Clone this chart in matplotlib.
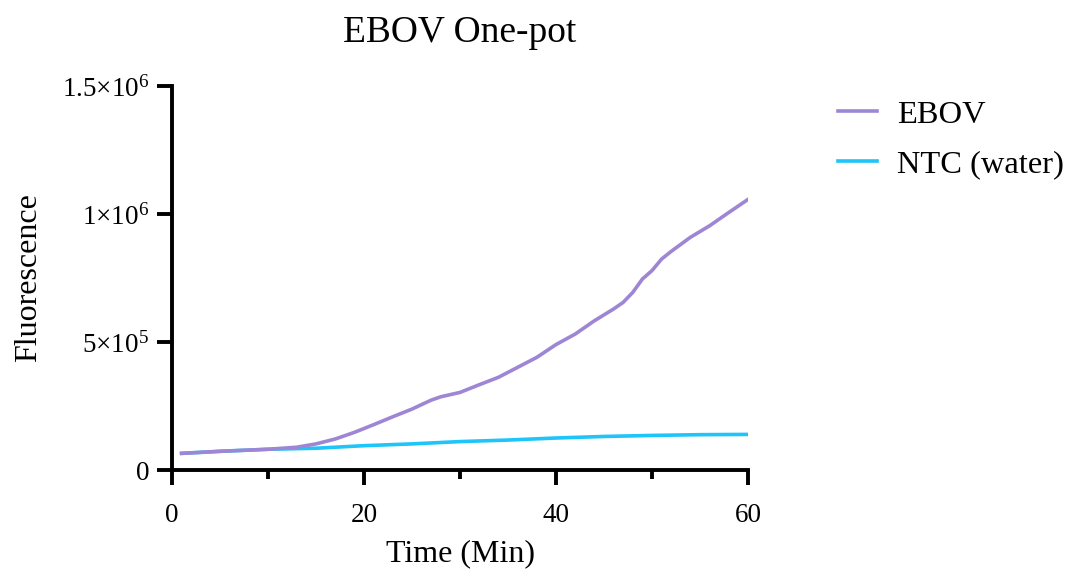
import matplotlib
matplotlib.use("Agg")
import matplotlib.pyplot as plt
from matplotlib.ticker import FixedLocator, FuncFormatter

plt.rcParams["font.family"] = ["Liberation Serif", "DejaVu Serif"]
plt.rcParams["mathtext.default"] = "regular"

# Fluorescence readings over time (minutes)
ebov_time = [1, 5, 10, 13, 15, 17, 19, 21, 23, 25, 27, 28, 30, 32, 34, 36, 38,
             40, 42, 44, 46, 47, 48, 49, 50, 51, 52, 54, 56, 58, 60]
ebov_fluor = [65000, 73000, 81000, 89000, 102000, 121000, 147000, 177000,
              208000, 238000, 273000, 286000, 303000, 333000, 362000, 401000,
              440000, 490000, 531000, 583000, 629000, 655000, 694000, 746000,
              779000, 824000, 854000, 909000, 954000, 1006000, 1057000]

ntc_time = [1, 5, 10, 15, 20, 25, 30, 35, 40, 45, 50, 55, 60]
ntc_fluor = [65000, 73000, 81000, 85000, 95000, 102000, 111000, 117000,
             125000, 131000, 135000, 138000, 139000]

series_labels = ["EBOV", "NTC (water)"]
series_colors = ["#9E86D4", "#1EC5FA"]

y_ticks = [0, 5e5, 1e6, 1.5e6]
y_tick_labels = ["0", r"$5{\times}10^{5}$", r"$1{\times}10^{6}$", r"$1.5{\times}10^{6}$"]
x_major = [0, 20, 40, 60]
x_minor = [10, 30, 50]

fig = plt.figure(figsize=(10.7, 5.77), dpi=100)
ax = fig.add_axes([172 / 1070, 1 - 470 / 577, 576 / 1070, 384 / 577])

ax.plot(ebov_time, ebov_fluor, color=series_colors[0], lw=2.6,
        label=series_labels[0], zorder=3)
ax.plot(ntc_time, ntc_fluor, color=series_colors[1], lw=2.6,
        label=series_labels[1], zorder=2)

ax.set_xlim(0, 60)
ax.set_ylim(0, 1.5e6)

for side in ("top", "right"):
    ax.spines[side].set_visible(False)
for side in ("left", "bottom"):
    ax.spines[side].set_linewidth(2.8)

ax.xaxis.set_major_locator(FixedLocator(x_major))
ax.xaxis.set_minor_locator(FixedLocator(x_minor))
ax.yaxis.set_major_locator(FixedLocator(y_ticks))
ax.yaxis.set_major_formatter(FuncFormatter(lambda v, p: y_tick_labels[y_ticks.index(v)] if v in y_ticks else ""))

ax.tick_params(axis="both", which="major", direction="out", length=10.5,
               width=2.8, labelsize=19.5)
ax.tick_params(axis="x", which="minor", direction="out", length=6.5, width=2.8)
ax.tick_params(axis="x", which="major", pad=13)
ax.tick_params(axis="y", which="major", pad=6)

ax.set_xlabel("Time (Min)", fontsize=23, labelpad=8)
ax.set_ylabel("Fluorescence", fontsize=23, labelpad=13)
ax.set_title("EBOV One-pot", fontsize=27, pad=32)

leg = ax.legend(loc="upper left", bbox_to_anchor=(838 / 1070, 1 - 100 / 577),
                bbox_transform=fig.transFigure, frameon=False, fontsize=23.4,
                handlelength=1.2, handletextpad=0.62, labelspacing=0.6,
                borderpad=0, borderaxespad=0)
for line in leg.get_lines():
    line.set_linewidth(2.6)

fig.savefig("out.png", dpi=100)
